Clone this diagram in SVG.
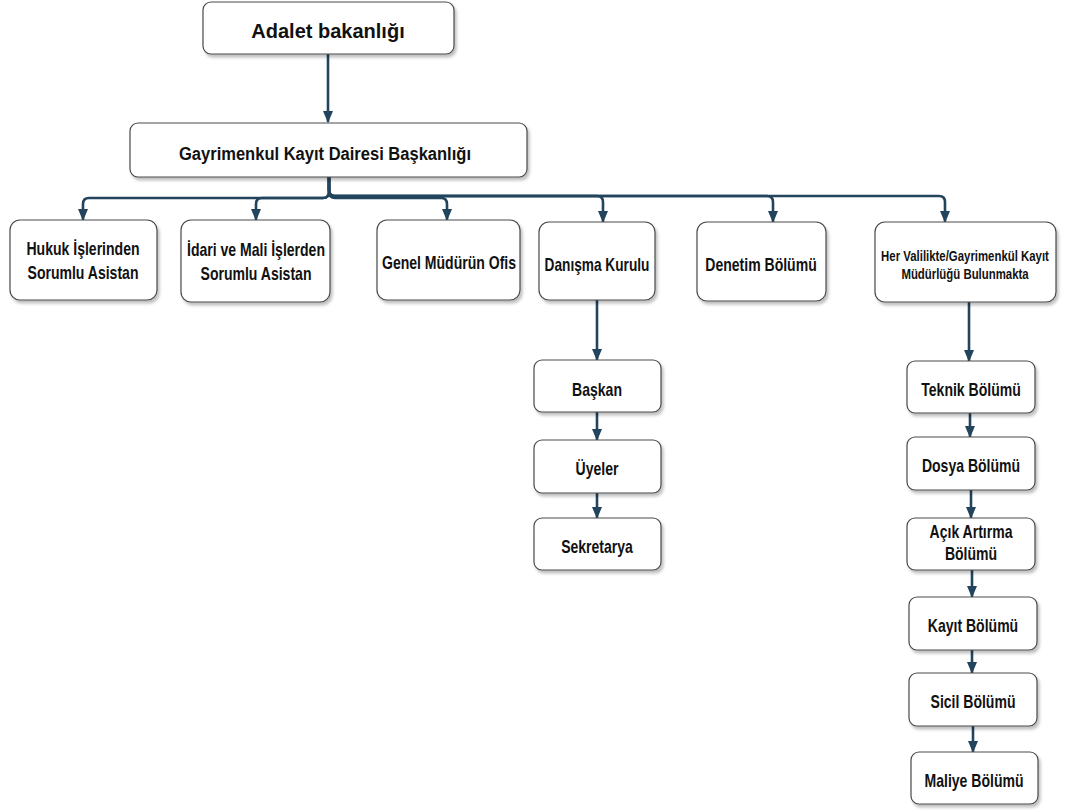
<svg xmlns="http://www.w3.org/2000/svg" width="1065" height="812" viewBox="0 0 1065 812">
<style>
.box{fill:#fff;stroke:#4a4a4a;stroke-width:1.2;filter:url(#sh)}
.t{font-family:"Liberation Sans",Arial,sans-serif;font-weight:bold;fill:#111;text-anchor:middle}
.f{font-size:18px}
.s{font-size:15px}
.edge{fill:none;stroke:#23445D;stroke-width:2.6;marker-end:url(#ah)}
</style>
<defs>
<filter id="sh" x="-10%" y="-10%" width="130%" height="140%">
<feDropShadow dx="2" dy="3" stdDeviation="1.5" flood-color="#000" flood-opacity="0.25"/>
</filter>
<marker id="ah" markerUnits="userSpaceOnUse" viewBox="0 0 12 10" markerWidth="12" markerHeight="11" refX="11" refY="5" orient="auto">
<path d="M0,0 L12,5 L0,10 Z" fill="#23445D"/>
</marker>
</defs>
<rect width="1065" height="812" fill="#fff"/>
<g id="connectors">
<path class="edge" d="M328,54 V122"/>
<path class="edge" d="M329,177 V192 Q329,198 323,198 H89 Q83,198 83,204 V220"/>
<path class="edge" d="M329,177 V192 Q329,198 323,198 H262 Q256,198 256,204 V220"/>
<path class="edge" d="M329,177 V192 Q329,198 335,198 H441 Q447,198 447,204 V220"/>
<path class="edge" d="M329,177 V190 Q329,196 335,196 H597 Q603,196 603,202 V222"/>
<path class="edge" d="M329,177 V190 Q329,196 335,196 H767 Q773,196 773,202 V222"/>
<path class="edge" d="M329,177 V190 Q329,196 335,196 H939 Q945,196 945,202 V222"/>
<path class="edge" d="M597,300 V360"/>
<path class="edge" d="M597,412 V440"/>
<path class="edge" d="M597,493 V518"/>
<path class="edge" d="M969,302 V361"/>
<path class="edge" d="M970,413 V437"/>
<path class="edge" d="M971,490 V518"/>
<path class="edge" d="M972,570 V597"/>
<path class="edge" d="M972,650 V673"/>
<path class="edge" d="M973,726 V752"/>
</g>
<g id="n-adalet"><rect class="box" x="203" y="2" width="251" height="52" rx="8"/><text class="t" x="328" y="38" font-size="20">Adalet bakanlığı</text></g>
<g id="n-gayrimenkul"><rect class="box" x="130" y="123" width="397" height="54" rx="8"/><text class="t" font-size="19" transform="translate(325,160) scale(0.87,1)">Gayrimenkul Kayıt Dairesi Başkanlığı</text></g>
<g id="n-hukuk"><rect class="box" x="10" y="220" width="147" height="80" rx="10"/><text class="t f" transform="translate(83,255) scale(0.78,1)">Hukuk İşlerinden</text><text class="t f" transform="translate(83,279) scale(0.78,1)">Sorumlu Asistan</text></g>
<g id="n-idari"><rect class="box" x="181" y="220" width="149" height="82" rx="10"/><text class="t f" transform="translate(256,256) scale(0.78,1)">İdari ve Mali İşlerden</text><text class="t f" transform="translate(256,280) scale(0.78,1)">Sorumlu Asistan</text></g>
<g id="n-genel"><rect class="box" x="377" y="220" width="143" height="80" rx="10"/><text class="t f" transform="translate(449,269) scale(0.78,1)">Genel Müdürün Ofis</text></g>
<g id="n-danisma"><rect class="box" x="539" y="222" width="116" height="78" rx="10"/><text class="t f" transform="translate(597,271) scale(0.76,1)">Danışma Kurulu</text></g>
<g id="n-denetim"><rect class="box" x="697" y="222" width="129" height="79" rx="10"/><text class="t f" transform="translate(761,271) scale(0.78,1)">Denetim Bölümü</text></g>
<g id="n-her"><rect class="box" x="875" y="222" width="181" height="80" rx="10"/><text class="t s" transform="translate(965,261) scale(0.76,1)">Her Valilikte/Gayrimenkül Kayıt</text><text class="t s" transform="translate(965,279) scale(0.76,1)">Müdürlüğü Bulunmakta</text></g>
<g id="n-baskan"><rect class="box" x="534" y="360" width="127" height="52" rx="8"/><text class="t f" transform="translate(597,396) scale(0.78,1)">Başkan</text></g>
<g id="n-uyeler"><rect class="box" x="534" y="440" width="127" height="53" rx="8"/><text class="t f" transform="translate(597,475) scale(0.78,1)">Üyeler</text></g>
<g id="n-sekretarya"><rect class="box" x="534" y="518" width="127" height="52" rx="8"/><text class="t f" transform="translate(597,553) scale(0.78,1)">Sekretarya</text></g>
<g id="n-teknik"><rect class="box" x="907" y="361" width="128" height="52" rx="8"/><text class="t f" transform="translate(971,396) scale(0.78,1)">Teknik Bölümü</text></g>
<g id="n-dosya"><rect class="box" x="907" y="437" width="128" height="53" rx="8"/><text class="t f" transform="translate(971,472) scale(0.78,1)">Dosya Bölümü</text></g>
<g id="n-acik"><rect class="box" x="907" y="518" width="128" height="52" rx="8"/><text class="t f" transform="translate(971,538) scale(0.78,1)">Açık Artırma</text><text class="t f" transform="translate(971,560) scale(0.78,1)">Bölümü</text></g>
<g id="n-kayit"><rect class="box" x="909" y="597" width="128" height="53" rx="8"/><text class="t f" transform="translate(973,632) scale(0.78,1)">Kayıt Bölümü</text></g>
<g id="n-sicil"><rect class="box" x="909" y="673" width="128" height="53" rx="8"/><text class="t f" transform="translate(973,708) scale(0.78,1)">Sicil Bölümü</text></g>
<g id="n-maliye"><rect class="box" x="911" y="752" width="127" height="52" rx="8"/><text class="t f" transform="translate(974,787) scale(0.78,1)">Maliye Bölümü</text></g>
</svg>
